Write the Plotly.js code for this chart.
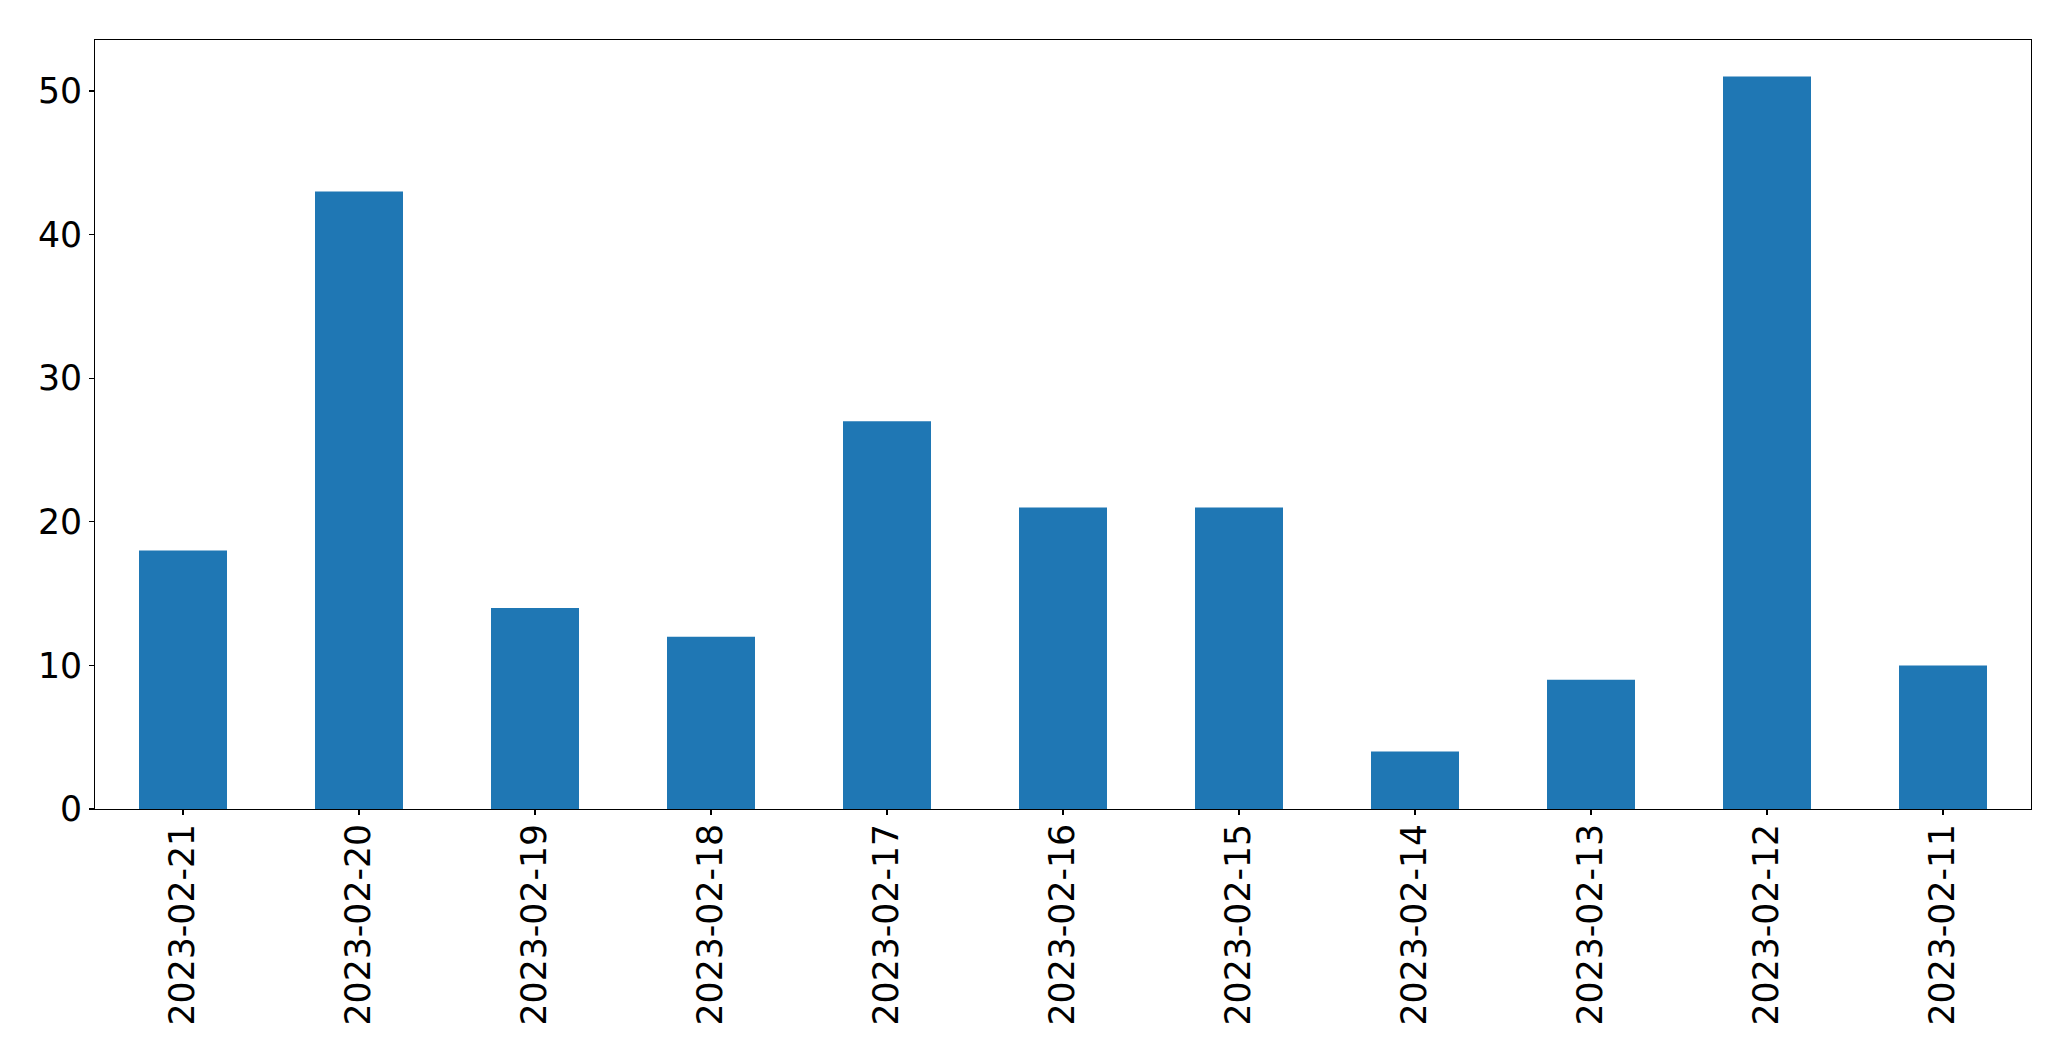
<!DOCTYPE html>
<html>
<head>
<meta charset="utf-8">
<script src="https://cdn.plot.ly/plotly-3.0.1.min.js"></script>
<style>html,body{margin:0;padding:0;background:#fff;}#chart{width:2071px;height:1061px;}</style>
</head>
<body>
<div id="chart"></div>
<script>
const dates = ["2023-02-21","2023-02-20","2023-02-19","2023-02-18","2023-02-17","2023-02-16","2023-02-15","2023-02-14","2023-02-13","2023-02-12","2023-02-11"];
const counts = [18, 43, 14, 12, 27, 21, 21, 4, 9, 51, 10];
const yTicks = [0, 10, 20, 30, 40, 50];

const trace = {
  type: 'bar',
  x: dates,
  y: counts,
  width: 0.5,
  marker: {color: '#1f77b4', line: {width: 0}},
  hoverinfo: 'x+y'
};

const layout = {
  width: 2071,
  height: 1061,
  margin: {l: 94.5, r: 39.5, t: 39.5, b: 252, pad: 0},
  paper_bgcolor: '#ffffff',
  plot_bgcolor: '#ffffff',
  showlegend: false,
  bargap: 0.5,
  font: {family: 'DejaVu Sans', size: 34.7, color: '#000000'},
  xaxis: {
    type: 'category',
    range: [-0.5, dates.length - 0.5],
    tickangle: -90,
    ticks: 'outside',
    ticklen: 4.7,
    tickwidth: 1.1,
    tickcolor: '#000',
    ticklabelstandoff: -5,
    showline: true,
    linecolor: '#000',
    linewidth: 1.3,
    mirror: true,
    showgrid: false,
    zeroline: false,
    tickfont: {family: 'DejaVu Sans', size: 34.7, color: '#000'},
    automargin: false
  },
  yaxis: {
    range: [0, 53.55],
    tickvals: yTicks,
    ticktext: yTicks.map(String),
    ticks: 'outside',
    ticklen: 4.7,
    tickwidth: 1.1,
    tickcolor: '#000',
    showline: true,
    linecolor: '#000',
    linewidth: 1.3,
    mirror: true,
    showgrid: false,
    zeroline: false,
    tickfont: {family: 'DejaVu Sans', size: 34.7, color: '#000'},
    automargin: false
  }
};

Plotly.newPlot('chart', [trace], layout, {displayModeBar: false, staticPlot: true});
</script>
</body>
</html>
